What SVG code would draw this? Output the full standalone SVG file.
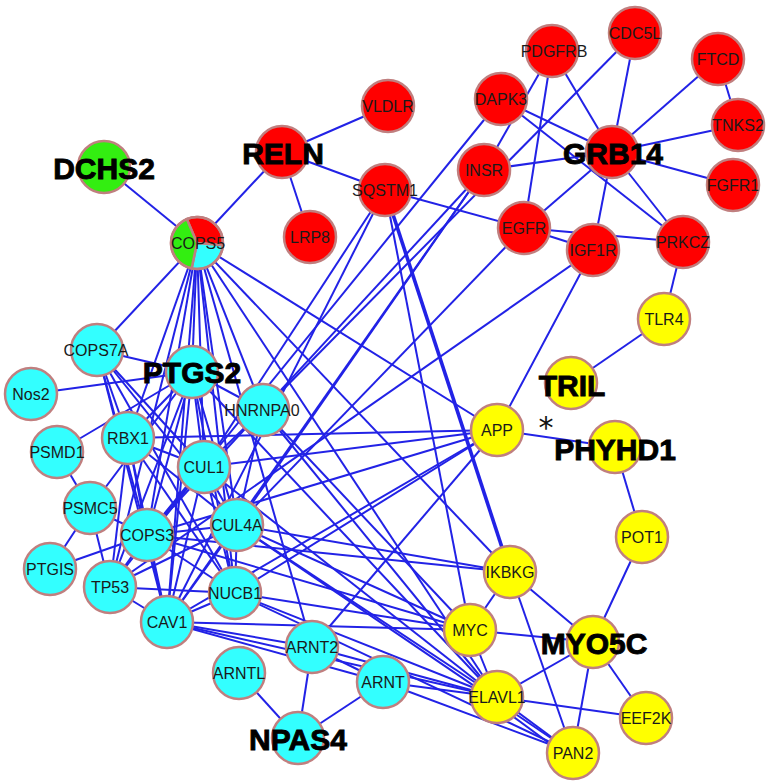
<svg xmlns="http://www.w3.org/2000/svg" width="772" height="783" viewBox="0 0 772 783">
<style>
.e line{stroke:#2222e6;stroke-width:2;fill:none}
.e line.t{stroke-width:3.6}
circle,.pie{stroke:#c07f7f;stroke-width:2.5}
.r{fill:#ff0000}.c{fill:#33ffff}.y{fill:#ffff00}.g{fill:#33ee11}
.l{font-family:"Liberation Sans",Arial,sans-serif;font-size:16px;fill:#1a1a1a;text-anchor:middle}
.b{font-family:"Liberation Sans",Arial,sans-serif;font-size:30px;font-weight:bold;fill:#000;stroke:#000;stroke-width:0.9;text-anchor:middle}
</style>
<rect width="772" height="783" fill="#ffffff"/>
<g id="connectors" class="e">
<line x1="104" y1="167" x2="197" y2="243"/>
<line x1="197" y1="243" x2="282" y2="152"/>
<line x1="282" y1="152" x2="388" y2="106"/>
<line x1="282" y1="152" x2="310" y2="237"/>
<line x1="282" y1="152" x2="385" y2="190"/>
<line x1="385" y1="190" x2="524" y2="228"/>
<line x1="501" y1="99" x2="612" y2="152"/>
<line x1="501" y1="99" x2="683" y2="242"/>
<line x1="552" y1="51" x2="612" y2="152"/>
<line x1="552" y1="51" x2="524" y2="228"/>
<line x1="552" y1="51" x2="484" y2="170"/>
<line x1="635" y1="33" x2="612" y2="152"/>
<line x1="718" y1="59" x2="612" y2="152"/>
<line x1="718" y1="59" x2="738" y2="125"/>
<line x1="738" y1="125" x2="612" y2="152"/>
<line x1="733" y1="185" x2="612" y2="152"/>
<line x1="484" y1="170" x2="612" y2="152"/>
<line x1="612" y1="152" x2="524" y2="228"/>
<line x1="612" y1="152" x2="593" y2="250"/>
<line x1="612" y1="152" x2="683" y2="242"/>
<line x1="524" y1="228" x2="683" y2="242"/>
<line x1="524" y1="228" x2="593" y2="250"/>
<line x1="683" y1="242" x2="664" y2="319"/>
<line x1="664" y1="319" x2="571" y2="383"/>
<line x1="593" y1="250" x2="497" y2="430"/>
<line x1="497" y1="430" x2="615" y2="447"/>
<line x1="615" y1="447" x2="642" y2="537"/>
<line x1="642" y1="537" x2="593" y2="642"/>
<line x1="593" y1="642" x2="510" y2="572"/>
<line x1="593" y1="642" x2="470" y2="630"/>
<line x1="593" y1="642" x2="497" y2="697"/>
<line x1="593" y1="642" x2="573" y2="753"/>
<line x1="593" y1="642" x2="646" y2="718"/>
<line x1="510" y1="572" x2="470" y2="630"/>
<line x1="510" y1="572" x2="573" y2="753"/>
<line x1="497" y1="697" x2="646" y2="718"/>
<line x1="497" y1="697" x2="573" y2="753"/>
<line x1="492" y1="701" x2="568" y2="757"/>
<line x1="470" y1="630" x2="497" y2="697"/>
<line x1="635" y1="33" x2="263" y2="410"/>
<line x1="501" y1="99" x2="147" y2="535"/>
<line x1="484" y1="170" x2="147" y2="535"/>
<line x1="484" y1="170" x2="237" y2="525"/>
<line x1="484" y1="170" x2="167" y2="622"/>
<line x1="524" y1="228" x2="237" y2="525"/>
<line x1="593" y1="250" x2="110" y2="587"/>
<line x1="385" y1="190" x2="204" y2="467"/>
<line x1="385" y1="190" x2="167" y2="622"/>
<line class="t" x1="385" y1="190" x2="510" y2="572"/>
<line x1="385" y1="190" x2="470" y2="630"/>
<line x1="197" y1="243" x2="97" y2="350"/>
<line x1="197" y1="243" x2="192" y2="372"/>
<line x1="197" y1="243" x2="128" y2="438"/>
<line x1="197" y1="243" x2="204" y2="467"/>
<line x1="197" y1="243" x2="147" y2="535"/>
<line x1="197" y1="243" x2="110" y2="587"/>
<line x1="197" y1="243" x2="167" y2="622"/>
<line x1="197" y1="243" x2="237" y2="525"/>
<line x1="197" y1="243" x2="235" y2="593"/>
<line x1="197" y1="243" x2="263" y2="410"/>
<line x1="197" y1="243" x2="312" y2="647"/>
<line x1="197" y1="243" x2="497" y2="430"/>
<line x1="197" y1="243" x2="497" y2="697"/>
<line x1="197" y1="243" x2="510" y2="572"/>
<line x1="97" y1="350" x2="192" y2="372"/>
<line x1="97" y1="350" x2="204" y2="467"/>
<line x1="97" y1="350" x2="237" y2="525"/>
<line x1="97" y1="350" x2="235" y2="593"/>
<line x1="97" y1="350" x2="147" y2="535"/>
<line x1="97" y1="350" x2="167" y2="622"/>
<line x1="97" y1="350" x2="128" y2="438"/>
<line x1="31" y1="394" x2="192" y2="372"/>
<line x1="57" y1="452" x2="192" y2="372"/>
<line x1="57" y1="452" x2="90" y2="508"/>
<line x1="90" y1="508" x2="50" y2="569"/>
<line x1="90" y1="508" x2="110" y2="587"/>
<line x1="90" y1="508" x2="147" y2="535"/>
<line x1="90" y1="508" x2="192" y2="372"/>
<line x1="50" y1="569" x2="147" y2="535"/>
<line x1="128" y1="438" x2="192" y2="372"/>
<line x1="128" y1="438" x2="204" y2="467"/>
<line x1="128" y1="438" x2="237" y2="525"/>
<line x1="128" y1="438" x2="147" y2="535"/>
<line x1="128" y1="438" x2="110" y2="587"/>
<line x1="128" y1="438" x2="167" y2="622"/>
<line x1="128" y1="438" x2="235" y2="593"/>
<line x1="128" y1="438" x2="497" y2="430"/>
<line x1="192" y1="372" x2="204" y2="467"/>
<line x1="192" y1="372" x2="237" y2="525"/>
<line x1="192" y1="372" x2="147" y2="535"/>
<line x1="192" y1="372" x2="110" y2="587"/>
<line x1="192" y1="372" x2="167" y2="622"/>
<line x1="192" y1="372" x2="235" y2="593"/>
<line x1="192" y1="372" x2="263" y2="410"/>
<line x1="192" y1="372" x2="497" y2="697"/>
<line x1="204" y1="467" x2="237" y2="525"/>
<line x1="204" y1="467" x2="147" y2="535"/>
<line x1="204" y1="467" x2="110" y2="587"/>
<line x1="204" y1="467" x2="167" y2="622"/>
<line x1="204" y1="467" x2="235" y2="593"/>
<line x1="204" y1="467" x2="263" y2="410"/>
<line x1="204" y1="467" x2="497" y2="430"/>
<line x1="204" y1="467" x2="497" y2="697"/>
<line x1="237" y1="525" x2="147" y2="535"/>
<line x1="237" y1="525" x2="110" y2="587"/>
<line x1="237" y1="525" x2="167" y2="622"/>
<line x1="237" y1="525" x2="235" y2="593"/>
<line x1="237" y1="525" x2="263" y2="410"/>
<line x1="237" y1="525" x2="470" y2="630"/>
<line x1="237" y1="525" x2="497" y2="697"/>
<line x1="237" y1="525" x2="510" y2="572"/>
<line x1="237" y1="525" x2="573" y2="753"/>
<line x1="147" y1="535" x2="110" y2="587"/>
<line x1="147" y1="535" x2="167" y2="622"/>
<line x1="147" y1="535" x2="235" y2="593"/>
<line x1="147" y1="535" x2="497" y2="430"/>
<line x1="147" y1="535" x2="510" y2="572"/>
<line x1="147" y1="535" x2="470" y2="630"/>
<line x1="110" y1="587" x2="167" y2="622"/>
<line x1="110" y1="587" x2="235" y2="593"/>
<line x1="167" y1="622" x2="235" y2="593"/>
<line x1="167" y1="622" x2="312" y2="647"/>
<line x1="167" y1="622" x2="383" y2="682"/>
<line x1="167" y1="622" x2="497" y2="430"/>
<line x1="167" y1="622" x2="470" y2="630"/>
<line x1="167" y1="622" x2="497" y2="697"/>
<line x1="235" y1="593" x2="497" y2="430"/>
<line x1="235" y1="593" x2="470" y2="630"/>
<line x1="235" y1="593" x2="497" y2="697"/>
<line x1="235" y1="593" x2="573" y2="753"/>
<line x1="263" y1="410" x2="470" y2="630"/>
<line x1="263" y1="410" x2="497" y2="697"/>
<line x1="312" y1="647" x2="497" y2="430"/>
<line x1="312" y1="647" x2="383" y2="682"/>
<line x1="312" y1="647" x2="298" y2="738"/>
<line x1="312" y1="647" x2="497" y2="697"/>
<line x1="239" y1="673" x2="298" y2="738"/>
<line x1="383" y1="682" x2="298" y2="738"/>
<line x1="383" y1="682" x2="497" y2="697"/>
<line x1="383" y1="682" x2="573" y2="753"/>
</g>
<g id="n-DCHS2"><circle class="g" cx="104" cy="167" r="26"/><text class="b" x="104" y="179">DCHS2</text></g>
<g id="n-RELN"><circle class="r" cx="282" cy="152" r="26"/><text class="b" x="283" y="164">RELN</text></g>
<g id="n-VLDLR"><circle class="r" cx="388" cy="106" r="26"/><text class="l" x="388" y="112">VLDLR</text></g>
<g id="n-SQSTM1"><circle class="r" cx="385" cy="190" r="26"/><text class="l" x="385" y="196">SQSTM1</text></g>
<g id="n-LRP8"><circle class="r" cx="310" cy="237" r="26"/><text class="l" x="310" y="243">LRP8</text></g>
<g id="n-COPS5">
<path class="pie r" d="M197,243 L186.8,219.1 A26,26 0 0 1 222.9,245.3 Z"/>
<path class="pie c" d="M197,243 L222.9,245.3 A26,26 0 0 1 191.6,268.4 Z"/>
<path class="pie g" d="M197,243 L191.6,268.4 A26,26 0 0 1 186.8,219.1 Z"/>
<circle cx="197" cy="243" r="26" fill="none"/>
<text class="l" x="198" y="249">COPS5</text></g>
<g id="n-PDGFRB"><circle class="r" cx="552" cy="51" r="26"/><text class="l" x="554" y="57">PDGFRB</text></g>
<g id="n-CDC5L"><circle class="r" cx="635" cy="33" r="26"/><text class="l" x="635" y="39">CDC5L</text></g>
<g id="n-FTCD"><circle class="r" cx="718" cy="59" r="26"/><text class="l" x="718" y="65">FTCD</text></g>
<g id="n-TNKS2"><circle class="r" cx="738" cy="125" r="26"/><text class="l" x="738" y="131">TNKS2</text></g>
<g id="n-FGFR1"><circle class="r" cx="733" cy="185" r="26"/><text class="l" x="733" y="191">FGFR1</text></g>
<g id="n-GRB14"><circle class="r" cx="612" cy="152" r="26"/><text class="b" x="613" y="164">GRB14</text></g>
<g id="n-DAPK3"><circle class="r" cx="501" cy="99" r="26"/><text class="l" x="501" y="105">DAPK3</text></g>
<g id="n-INSR"><circle class="r" cx="484" cy="170" r="26"/><text class="l" x="484" y="176">INSR</text></g>
<g id="n-EGFR"><circle class="r" cx="524" cy="228" r="26"/><text class="l" x="524" y="234">EGFR</text></g>
<g id="n-IGF1R"><circle class="r" cx="593" cy="250" r="26"/><text class="l" x="593" y="256">IGF1R</text></g>
<g id="n-PRKCZ"><circle class="r" cx="683" cy="242" r="26"/><text class="l" x="683" y="248">PRKCZ</text></g>
<g id="n-TLR4"><circle class="y" cx="664" cy="319" r="26"/><text class="l" x="664" y="325">TLR4</text></g>
<g id="n-TRIL"><circle class="y" cx="571" cy="383" r="26"/><text class="b" x="572" y="396">TRIL</text></g>
<g id="n-APP"><circle class="y" cx="497" cy="430" r="26"/><text class="l" x="497" y="436">APP</text></g>
<g id="n-PHYHD1"><circle class="y" cx="615" cy="447" r="26"/><text class="b" x="615" y="460">PHYHD1</text></g>
<text id="asterisk" x="546" y="438" font-family="DejaVu Sans, sans-serif" font-size="30" text-anchor="middle" fill="#111">*</text>
<g id="n-POT1"><circle class="y" cx="642" cy="537" r="26"/><text class="l" x="642" y="543">POT1</text></g>
<g id="n-IKBKG"><circle class="y" cx="510" cy="572" r="26"/><text class="l" x="510" y="578">IKBKG</text></g>
<g id="n-MYC"><circle class="y" cx="470" cy="630" r="26"/><text class="l" x="470" y="636">MYC</text></g>
<g id="n-MYO5C"><circle class="y" cx="593" cy="642" r="26"/><text class="b" x="594" y="654">MYO5C</text></g>
<g id="n-ELAVL1"><circle class="y" cx="497" cy="697" r="26"/><text class="l" x="497" y="703">ELAVL1</text></g>
<g id="n-EEF2K"><circle class="y" cx="646" cy="718" r="26"/><text class="l" x="646" y="724">EEF2K</text></g>
<g id="n-PAN2"><circle class="y" cx="573" cy="753" r="26"/><text class="l" x="573" y="759">PAN2</text></g>
<g id="n-COPS7A"><circle class="c" cx="97" cy="350" r="26"/><text class="l" x="96" y="356">COPS7A</text></g>
<g id="n-Nos2"><circle class="c" cx="31" cy="394" r="26"/><text class="l" x="31" y="400">Nos2</text></g>
<g id="n-PTGS2"><circle class="c" cx="192" cy="372" r="26"/><text class="b" x="192" y="383">PTGS2</text></g>
<g id="n-HNRNPA0"><circle class="c" cx="263" cy="410" r="26"/><text class="l" x="262" y="416">HNRNPA0</text></g>
<g id="n-PSMD1"><circle class="c" cx="57" cy="452" r="26"/><text class="l" x="57" y="458">PSMD1</text></g>
<g id="n-RBX1"><circle class="c" cx="128" cy="438" r="26"/><text class="l" x="128" y="444">RBX1</text></g>
<g id="n-CUL1"><circle class="c" cx="204" cy="467" r="26"/><text class="l" x="204" y="473">CUL1</text></g>
<g id="n-PSMC5"><circle class="c" cx="90" cy="508" r="26"/><text class="l" x="90" y="514">PSMC5</text></g>
<g id="n-COPS3"><circle class="c" cx="147" cy="535" r="26"/><text class="l" x="147" y="541">COPS3</text></g>
<g id="n-CUL4A"><circle class="c" cx="237" cy="525" r="26"/><text class="l" x="237" y="531">CUL4A</text></g>
<g id="n-PTGIS"><circle class="c" cx="50" cy="569" r="26"/><text class="l" x="50" y="575">PTGIS</text></g>
<g id="n-TP53"><circle class="c" cx="110" cy="587" r="26"/><text class="l" x="110" y="593">TP53</text></g>
<g id="n-CAV1"><circle class="c" cx="167" cy="622" r="26"/><text class="l" x="167" y="628">CAV1</text></g>
<g id="n-NUCB1"><circle class="c" cx="235" cy="593" r="26"/><text class="l" x="235" y="599">NUCB1</text></g>
<g id="n-ARNT2"><circle class="c" cx="312" cy="647" r="26"/><text class="l" x="312" y="653">ARNT2</text></g>
<g id="n-ARNTL"><circle class="c" cx="239" cy="673" r="26"/><text class="l" x="239" y="679">ARNTL</text></g>
<g id="n-ARNT"><circle class="c" cx="383" cy="682" r="26"/><text class="l" x="383" y="688">ARNT</text></g>
<g id="n-NPAS4"><circle class="c" cx="298" cy="738" r="26"/><text class="b" x="298" y="750">NPAS4</text></g>
</svg>
